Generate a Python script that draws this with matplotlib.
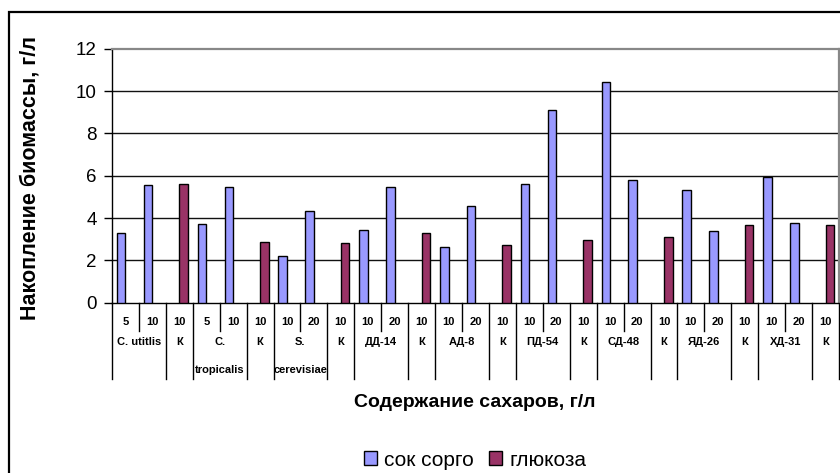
import numpy as np
import matplotlib
matplotlib.use("Agg")
import matplotlib.pyplot as plt
from matplotlib.patches import Patch, Rectangle

plt.rcParams['font.family'] = ['Liberation Sans', 'DejaVu Sans']

# ---- data ------------------------------------------------------------------
sugar = ['5', '10', '10', '5', '10', '10', '10', '20', '10',
         '10', '20', '10', '10', '20', '10', '10', '20', '10',
         '10', '20', '10', '10', '20', '10', '10', '20', '10']

strains = [('C. utitlis', 2), ('К', 1), ('C.\ntropicalis', 2), ('К', 1),
           ('S.\ncerevisiae', 2), ('К', 1), ('ДД-14', 2), ('К', 1),
           ('АД-8', 2), ('К', 1), ('ПД-54', 2), ('К', 1),
           ('СД-48', 2), ('К', 1), ('ЯД-26', 2), ('К', 1),
           ('ХД-31', 2), ('К', 1)]

# сок сорго (sorghum juice)
sok = [3.30, 5.55, None, 3.70, 5.47, None, 2.22, 4.34, None,
       3.45, 5.47, None, 2.65, 4.59, None, 5.63, 9.12, None,
       10.41, 5.79, None, 5.32, 3.38, None, 5.95, 3.77, None]
# глюкоза (glucose control)
gluc = [None, None, 5.63, None, None, 2.89, None, None, 2.81,
        None, None, 3.30, None, None, 2.73, None, None, 2.97,
        None, None, 3.12, None, None, 3.69, None, None, 3.69]

labels = ['сок сорго', 'глюкоза']
colors = ['#9999FF', '#993366']

# ---- figure ----------------------------------------------------------------
W, H = 840, 473
fig = plt.figure(figsize=(W / 100, H / 100), dpi=100)

# outer chart frame (runs past the right/bottom edge)
fig.patches.append(Rectangle((9 / W, -0.05), 1.2, (H - 12) / H + 0.05,
                             transform=fig.transFigure, fill=False,
                             edgecolor='black', lw=1.6, zorder=0))

ax = fig.add_axes([112 / W, (H - 302.7) / H, (839 - 112) / W, (302.7 - 48.7) / H])

x = np.arange(len(sugar))
w = 0.32
for vals, off, col in [(sok, -w / 2, colors[0]), (gluc, w / 2, colors[1])]:
    idx = [i for i, v in enumerate(vals) if v is not None]
    h = [vals[i] for i in idx]
    ax.bar(x[idx] + off, h, width=w, color=col, edgecolor='black',
           linewidth=1.0, zorder=3)

ax.set_xlim(-0.5, len(sugar) - 0.5)
ax.set_ylim(0, 12)
ax.set_yticks(range(0, 13, 2))
for yv in range(2, 12, 2):
    ax.axhline(yv, color='#111111', lw=1.0, zorder=1)

ax.tick_params(axis='y', direction='out', length=6, width=1, labelsize=13.5, pad=5)
ax.set_xticks([])

for s in ['left', 'bottom']:
    ax.spines[s].set_color('black')
    ax.spines[s].set_linewidth(1.0)
for s in ['top', 'right']:
    ax.spines[s].set_color('#888888')
    ax.spines[s].set_linewidth(1.6)

# ---- two-level category axis ---------------------------------------------
tr = ax.get_xaxis_transform()
y_num = -0.076
y_grp = -0.154
y_short = -0.111
y_long = -0.299
fs_cat = 8

for i, s in enumerate(sugar):
    ax.text(i, y_num, s, transform=tr, ha='center', va='center',
            fontsize=fs_cat, fontweight='bold')

pos = 0
bounds = [-0.5]
for name, n in strains:
    cx = pos + (n - 1) / 2
    parts = name.split('\n')
    ax.text(cx, y_grp, parts[0], transform=tr, ha='center', va='center',
            fontsize=fs_cat, fontweight='bold')
    if len(parts) > 1:
        ax.text(cx, y_grp - 0.111, parts[1], transform=tr, ha='center',
                va='center', fontsize=fs_cat, fontweight='bold')
    # short divider inside a group
    for k in range(1, n):
        xd = pos + k - 0.5
        ax.plot([xd, xd], [0, y_short], transform=tr, color='black', lw=1.0,
                clip_on=False)
    pos += n
    bounds.append(pos - 0.5)

for xd in bounds:
    ax.plot([xd, xd], [0, y_long], transform=tr, color='black', lw=1.0,
            clip_on=False)

# ---- titles and legend ----------------------------------------------------
fig.text(30 / W, (H - 178) / H, 'Накопление биомассы, г/л', rotation=90,
         ha='center', va='center', fontsize=15.5, fontweight='bold')
fig.text(475 / W, (H - 402) / H, 'Содержание сахаров, г/л',
         ha='center', va='center', fontsize=14, fontweight='bold')

handles = [Patch(facecolor=c, edgecolor='black', lw=1.0) for c in colors]
fig.legend(handles, labels, loc='center', bbox_to_anchor=(475 / W, (H - 460) / H),
           ncol=2, frameon=False, fontsize=15, handlelength=0.65,
           handleheight=0.65, handletextpad=0.35, columnspacing=0.7)

fig.savefig('out.png', dpi=100)
